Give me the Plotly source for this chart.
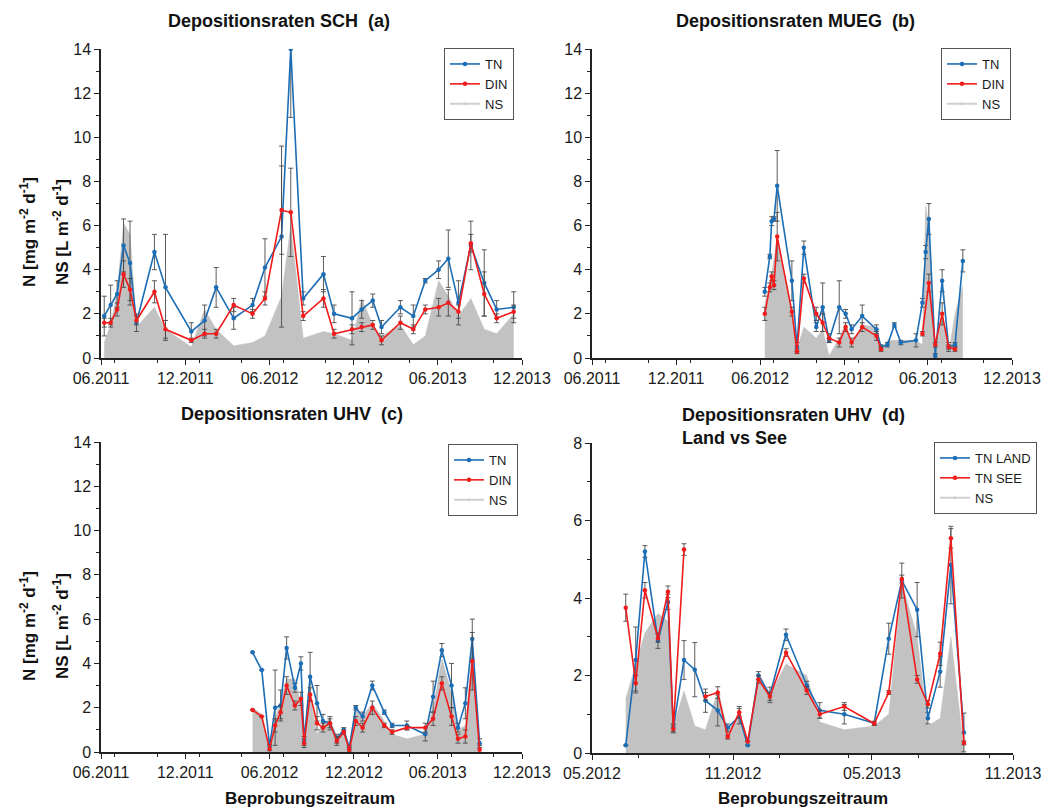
import plotly.graph_objects as go

# ---------------- data ----------------
# (a) SCH
sch_dates = ["2011-06-08", "2011-06-22", "2011-07-06", "2011-07-20", "2011-08-03", "2011-08-17",
             "2011-09-25", "2011-10-19", "2011-12-14", "2012-01-12", "2012-02-06", "2012-03-15",
             "2012-04-25", "2012-05-22", "2012-06-27", "2012-07-17", "2012-08-13", "2012-09-26",
             "2012-10-19", "2012-11-27", "2012-12-18", "2013-01-11", "2013-01-30", "2013-03-12",
             "2013-04-09", "2013-05-05", "2013-06-03", "2013-06-24", "2013-07-16", "2013-08-12",
             "2013-09-10", "2013-10-07", "2013-11-13"]
sch_tn = [1.9, 2.4, 2.9, 5.1, 4.3, 1.6, 4.8, 3.2, 1.2, 1.7, 3.2, 1.8, 2.4, 4.1, 5.5, 14.0, 2.7,
          3.8, 2.0, 1.8, 2.2, 2.6, 1.4, 2.3, 1.9, 3.5, 4.0, 4.5, 2.5, 5.1, 3.4, 2.2, 2.3]
sch_tn_err = [0.9, 0.9, 0.6, 1.2, 1.9, 0.4, 0.8, 2.4, 0.4, 0.7, 0.9, 0.5, 0.3, 1.3, 4.1, 3.1, 0.3,
              0.8, 0.4, 1.2, 0.4, 0.3, 0.3, 0.3, 0.5, 0.1, 0.4, 1.3, 1.0, 1.1, 1.5, 0.4, 0.7]
sch_din = [1.6, 1.6, 2.2, 3.8, 3.1, 1.7, 3.0, 1.3, 0.8, 1.1, 1.1, 2.4, 2.0, 2.7, 6.7, 6.6, 1.9,
           2.7, 1.1, 1.3, 1.4, 1.5, 0.8, 1.6, 1.3, 2.2, 2.3, 2.5, 2.1, 5.2, 2.9, 1.8, 2.1]
sch_din_err = [0.2, 0.2, 0.3, 0.6, 0.5, 0.2, 0.5, 0.4, 0.1, 0.2, 0.2, 0.3, 0.2, 0.3, 2.0, 2.0, 0.2,
               0.4, 0.2, 0.2, 0.2, 0.2, 0.2, 0.3, 0.2, 0.2, 0.4, 0.6, 0.3, 0.4, 1.0, 0.2, 0.3]
sch_ns = [0.7, 1.5, 3.0, 6.1, 5.6, 1.4, 2.3, 1.3, 0.5, 2.2, 1.3, 0.55, 0.7, 1.0, 2.8, 6.0, 0.9,
          1.2, 1.1, 0.8, 2.7, 1.5, 1.0, 1.5, 0.6, 1.0, 3.5, 2.8, 1.9, 2.7, 1.3, 1.1, 2.0]

# (b) MUEG
mueg_dates = ["2012-06-11", "2012-06-22", "2012-06-26", "2012-07-01", "2012-07-08", "2012-08-09",
              "2012-08-20", "2012-09-04", "2012-10-01", "2012-10-15", "2012-10-29", "2012-11-20",
              "2012-12-04", "2012-12-17", "2013-01-09", "2013-02-09", "2013-02-19", "2013-03-05",
              "2013-03-20", "2013-04-03", "2013-05-06", "2013-05-20", "2013-05-27", "2013-06-03",
              "2013-06-17", "2013-07-02", "2013-07-16", "2013-07-30", "2013-08-16"]
mueg_tn = [3.0, 4.6, 6.2, 6.3, 7.8, 3.5, 0.5, 5.0, 1.4, 2.3, 0.8, 2.3, 2.0, 1.3, 1.9, 1.3, 0.5,
           0.6, 1.5, 0.7, 0.8, 2.5, 4.8, 6.3, 0.1, 3.5, 0.5, 0.6, 4.4]
mueg_tn_err = [0.2, 0.1, 0.2, 0.1, 1.6, 0.9, 0.2, 0.3, 0.2, 1.1, 0.1, 1.2, 0.2, 0.2, 0.5, 0.2, 0.1,
               0.1, 0.1, 0.1, 0.3, 0.2, 0.3, 0.7, 0.1, 0.5, 0.2, 0.1, 0.5]
mueg_din_dates = ["2012-06-11", "2012-06-22", "2012-06-26", "2012-07-01", "2012-07-08", "2012-08-09",
                  "2012-08-20", "2012-09-04", "2012-10-01", "2012-10-15", "2012-10-29", "2012-11-20",
                  "2012-12-04", "2012-12-17", "2013-01-09", "2013-02-09", "2013-02-19", "2013-04-20",
                  "2013-05-20", "2013-06-03", "2013-06-17", "2013-07-02", "2013-07-16", "2013-07-30"]
mueg_din = [2.0, 3.2, 3.7, 3.3, 5.5, 2.1, 0.3, 3.6, 2.0, 1.6, 0.9, 0.7, 1.4, 0.7, 1.4, 1.0, 0.4,
            None, 1.1, 3.4, 0.6, 2.0, 0.5, 0.4]
mueg_din_err = [0.3, 0.2, 0.2, 0.2, 1.1, 0.2, 0.1, 0.2, 0.3, 0.4, 0.2, 0.2, 0.2, 0.2, 0.2, 0.2, 0.1,
                None, 0.1, 0.4, 0.1, 0.5, 0.1, 0.1]
mueg_ns = [2.5, 3.3, 3.8, 4.5, 5.5, 2.0, 0.4, 1.4, 0.9, 1.3, 0.1, 0.9, 1.6, 0.6, 1.5, 1.4, 0.3,
           0.8, 0.8, 0.8, 0.8, 0.6, 6.9, 6.0, 0.1, 2.0, 0.2, 2.0, 3.3]

# (c) UHV
uhv_dates = ["2012-04-25", "2012-05-15", "2012-06-01", "2012-06-13", "2012-06-25", "2012-07-08",
             "2012-07-26", "2012-08-08", "2012-08-15", "2012-08-28", "2012-09-12", "2012-09-25",
             "2012-10-10", "2012-10-25", "2012-11-09", "2012-11-21", "2012-12-05", "2012-12-20",
             "2013-01-10", "2013-02-05", "2013-02-22", "2013-03-26", "2013-05-05", "2013-05-22",
             "2013-06-10", "2013-07-01", "2013-07-15", "2013-07-31", "2013-08-15", "2013-08-31"]
uhv_tn = [4.5, 3.7, 0.26, 2.0, 2.1, 4.7, 2.9, 4.0, 0.5, 3.4, 2.2, 1.4, 1.3, 0.6, 1.0, 0.2, 2.0,
          1.6, 3.0, 1.8, 1.2, 1.2, 0.8, 2.5, 4.6, 3.0, 1.1, 2.2, 5.1, 0.4]
uhv_tn_err = [0, 0, 0.2, 1.7, 0.7, 0.5, 0.2, 0.3, 0.2, 1.1, 0.8, 0.3, 0.3, 0.2, 0.1, 0.1, 0.1,
              0.2, 0.2, 0.1, 0.1, 0.2, 0.3, 0.7, 0.3, 1.0, 0.2, 0.7, 0.9, 0.2]
uhv_din = [1.9, 1.6, 0.14, 1.2, 1.8, 3.0, 2.1, 2.4, 0.4, 2.6, 1.3, 1.1, 1.3, 0.5, 0.9, 0.1, 1.4,
           1.1, 2.0, 1.2, 0.9, 1.1, 1.1, 1.5, 3.1, 1.6, 0.6, 0.7, 4.1, 0.1]
uhv_din_err = [0, 0, 0.2, 0.3, 0.3, 0.4, 0.2, 0.3, 0.2, 0.3, 0.3, 0.2, 0.2, 0.2, 0.1, 0.1, 0.2,
               0.2, 0.3, 0.1, 0.1, 0.1, 0.2, 0.3, 0.3, 0.4, 0.2, 0.3, 1.3, 0.2]
uhv_ns = [2.0, 1.7, 0.1, 1.5, 2.3, 3.3, 3.3, 2.2, 0.9, 2.5, 0.8, 1.3, 1.5, 0.7, 1.0, 0.2, 2.1,
          1.6, 2.2, 1.4, 0.8, 0.6, 0.8, 2.0, 4.2, 2.7, 1.0, 1.2, 4.6, 0.1]

# (d) UHV Land vs See
lvs_dates = ["2012-06-14", "2012-06-27", "2012-07-09", "2012-07-26", "2012-08-08", "2012-08-15",
             "2012-08-29", "2012-09-12", "2012-09-26", "2012-10-12", "2012-10-25", "2012-11-09",
             "2012-11-20", "2012-12-04", "2012-12-19", "2013-01-09", "2013-02-05", "2013-02-22",
             "2013-03-26", "2013-05-04", "2013-05-23", "2013-06-09", "2013-06-29", "2013-07-13",
             "2013-07-29", "2013-08-12", "2013-08-29"]
land_tn = [0.2, 2.4, 5.2, 2.9, 3.9, 0.65, 2.4, 2.15, 1.35, 1.1, 0.65, 0.95, 0.2, 2.0, 1.5, 3.05,
           1.75, 1.1, 1.0, 0.77, 2.95, 4.45, 3.7, 0.9, 2.1, 4.85, 0.53]
land_err = [0, 0.85, 0.15, 0.2, 0.2, 0.1, 0.5, 0.7, 0.3, 0.4, 0.1, 0.2, 0, 0.1, 0.2, 0.15, 0.1,
            0.2, 0.25, 0.05, 0.4, 0.45, 0.7, 0.15, 0.4, 1.0, 0.5]
see_tn = [3.75, 1.8, 4.2, 2.96, 4.16, 0.62, 5.25, None, 1.46, 1.56, 0.41, 1.05, 0.3, 1.9, 1.46,
          2.59, 1.61, 1.0, 1.2, 0.76, 1.56, 4.49, 1.9, 1.26, 2.56, 5.54, 0.26]
see_err = [0.35, 0.2, 0.2, 0.1, 0.15, 0.1, 0.15, None, 0.1, 0.15, 0.05, 0.15, 0, 0.1, 0.1, 0.1,
           0.1, 0.1, 0.1, 0.05, 0.05, 0.1, 0.1, 0.1, 0.3, 0.25, 0.05]
lvs_ns = [1.4, 2.3, 3.1, 3.6, 3.4, 0.7, 1.6, 0.7, 0.6, 1.6, 0.6, 1.0, 0.3, 2.1, 1.5, 2.3, 2.0,
          0.8, 0.6, 0.7, 1.0, 4.4, 3.0, 0.7, 0.9, 3.0, 0.1]

# ---------------- style ----------------
# page body has an 8px margin, so the figure is a bit smaller and offset
OFF = 8
W, H = 1056 - OFF, 809 - OFF
FONT = "Liberation Sans, Arial, sans-serif"
BLUE = "#1b6db5"
RED = "#f21b1b"
GRAY = "#c2c2c2"
ERR = "#4a4a4a"


def px(x):
    return (x - OFF) / W


def py(y):
    return 1 - (y - OFF) / H


fig = go.Figure()


def ns_area(x, y, n, leg):
    fig.add_trace(go.Scatter(x=x, y=y, mode="lines", fill="tozeroy", fillcolor=GRAY,
                             line=dict(color=GRAY, width=0.5), showlegend=False,
                             xaxis=f"x{n}", yaxis=f"y{n}", hoverinfo="skip"))
    # legend entry for NS (line style, like the original)
    fig.add_trace(go.Scatter(x=[None], y=[None], mode="lines+markers", name="NS",
                             line=dict(color="#cfcfcf", width=2), marker=dict(size=3),
                             legend=leg, xaxis=f"x{n}", yaxis=f"y{n}"))


def series(x, y, err, color, name, n, leg):
    fig.add_trace(go.Scatter(x=x, y=y, mode="lines+markers", name=name,
                             line=dict(color=color, width=1.6),
                             marker=dict(color=color, size=4.5),
                             error_y=dict(type="data", array=err, color=ERR, thickness=0.9, width=2.5),
                             legend=leg, xaxis=f"x{n}", yaxis=f"y{n}"))


# panel order: NS area behind, then TN, then DIN
ns_area(sch_dates, sch_ns, 1, "legend")
series(sch_dates, sch_tn, sch_tn_err, BLUE, "TN", 1, "legend")
series(sch_dates, sch_din, sch_din_err, RED, "DIN", 1, "legend")

ns_area(mueg_dates, mueg_ns, 2, "legend2")
series(mueg_dates, mueg_tn, mueg_tn_err, BLUE, "TN", 2, "legend2")
series(mueg_din_dates, mueg_din, mueg_din_err, RED, "DIN", 2, "legend2")

ns_area(uhv_dates, uhv_ns, 3, "legend3")
series(uhv_dates, uhv_tn, uhv_tn_err, BLUE, "TN", 3, "legend3")
series(uhv_dates, uhv_din, uhv_din_err, RED, "DIN", 3, "legend3")

ns_area(lvs_dates, lvs_ns, 4, "legend4")
series(lvs_dates, land_tn, land_err, BLUE, "TN LAND", 4, "legend4")
series(lvs_dates, see_tn, see_err, RED, "TN SEE", 4, "legend4")

# legend order: TN, DIN, NS
for t in fig.data:
    if t.name == "NS":
        t.legendrank = 1002
    elif t.name in ("DIN", "TN SEE"):
        t.legendrank = 1001
    else:
        t.legendrank = 1000

# ---------------- axes ----------------
tickfont = dict(family=FONT, size=16, color="#1a1a1a")


def xax(dom, anchor, r, t0):
    return dict(domain=dom, anchor=anchor, type="date", range=r, tick0=t0, dtick="M6",
                tickformat="%m.%Y", ticks="outside", ticklen=5, tickwidth=1.2, tickcolor="#222",
                minor=dict(dtick="M3", ticks="outside", ticklen=3, tickcolor="#222", showgrid=False),
                showline=True, linecolor="#222", linewidth=1.5, showgrid=False, zeroline=False,
                tickfont=tickfont, automargin=False)


def yax(dom, anchor, top):
    return dict(domain=dom, anchor=anchor, range=[0, top], dtick=2, ticks="outside", ticklen=5,
                tickwidth=1.2, tickcolor="#222",
                minor=dict(dtick=1, ticks="outside", ticklen=3, tickcolor="#222", showgrid=False),
                showline=True, linecolor="#222", linewidth=1.5, showgrid=False, zeroline=False,
                tickfont=tickfont, automargin=False)


top_y = [py(358), py(49)]
bot_y = [py(752), py(442)]
left_x = [px(101), px(522)]
right_x = [px(592), px(1012)]

fig.update_layout(
    xaxis=xax(left_x, "y", ["2011-06-01", "2013-12-01"], "2011-06-01"),
    yaxis=yax(top_y, "x", 14),
    xaxis2=xax(right_x, "y2", ["2011-06-01", "2013-12-01"], "2011-06-01"),
    yaxis2=yax(top_y, "x2", 14),
    xaxis3=xax(left_x, "y3", ["2011-06-01", "2013-12-01"], "2011-06-01"),
    yaxis3=yax(bot_y, "x3", 14),
    xaxis4=xax([px(592), px(1013)], "y4", ["2012-05-01", "2013-11-01"], "2012-05-01"),
    yaxis4=yax([py(753), py(443)], "x4", 8),
)


def legend_box(x, y):
    return dict(x=x, y=y, xanchor="right", yanchor="top", bgcolor="white", bordercolor="#555",
                borderwidth=1, font=dict(family=FONT, size=13, color="#1a1a1a"),
                tracegroupgap=0, itemwidth=30, traceorder="normal")


fig.update_layout(
    legend=legend_box(px(514), py(48)),
    legend2=legend_box(px(1011), py(48)),
    legend3=legend_box(px(518), py(444)),
    legend4=legend_box(px(1037), py(442)),
)

# ---------------- text ----------------
ann = []


def text(s, x, y, size, xanchor="center", angle=0):
    ann.append(dict(text=s, x=px(x), y=py(y), xref="paper", yref="paper", showarrow=False,
                    xanchor=xanchor, yanchor="middle", textangle=angle,
                    font=dict(family=FONT, size=size, color="#111")))


text("<b>Depositionsraten SCH \u00a0(a)</b>", 279, 21, 18)
text("<b>Depositionsraten MUEG \u00a0(b)</b>", 795, 21, 18)
text("<b>Depositionsraten UHV \u00a0(c)</b>", 292, 414, 18)
text("<b>Depositionsraten UHV \u00a0(d)</b>", 680, 415, 18, xanchor="left")
text("<b>Land vs See</b>", 680, 438, 18, xanchor="left")

for yc in (232, 626):
    text("<b>N [mg m<sup>-2</sup> d<sup>-1</sup>]</b>", 28, yc, 17, angle=-90)
    text("<b>NS [L m<sup>-2</sup> d<sup>-1</sup>]</b>", 61, yc, 17, angle=-90)

text("<b>Beprobungszeitraum</b>", 310, 798, 17)
text("<b>Beprobungszeitraum</b>", 803, 798, 17)

fig.update_layout(annotations=ann, width=W, height=H, margin=dict(l=0, r=0, t=0, b=0),
                  paper_bgcolor="white", plot_bgcolor="white", font=dict(family=FONT),
                  hovermode=False)

fig.write_html("out.html")
